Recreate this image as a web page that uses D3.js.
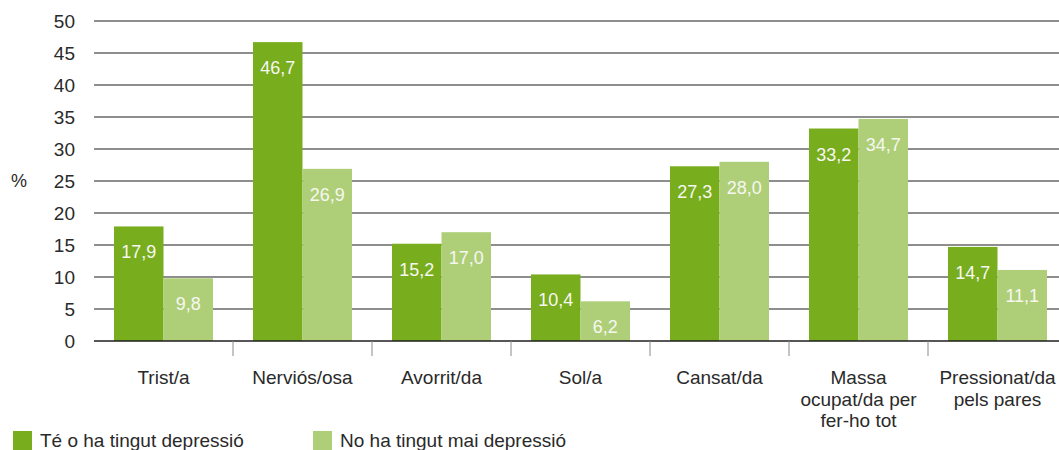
<!DOCTYPE html>
<html><head><meta charset="utf-8">
<script src="https://cdn.jsdelivr.net/npm/d3@7"></script>
<style>
html,body{margin:0;padding:0;background:#fff;}
svg text{font-family:"Liberation Sans",Arial,sans-serif;}
</style></head>
<body><svg id="c" width="1059" height="450"></svg>
<script>
const categories = [["Trist/a"],["Nerviós/osa"],["Avorrit/da"],["Sol/a"],["Cansat/da"],["Massa","ocupat/da per","fer-ho tot"],["Pressionat/da","pels pares"]];
const seriesNames = ["Té o ha tingut depressió","No ha tingut mai depressió"];
const depressed = [17.9, 46.7, 15.2, 10.4, 27.3, 33.2, 14.7];
const neverDepressed = [9.8, 26.9, 17.0, 6.2, 28.0, 34.7, 11.1];
const yTicks = [0,5,10,15,20,25,30,35,40,45,50];
const colors = ["#78ad1e","#aecf78"];

const svg = d3.select("#c");
const x0 = d3.scaleBand().domain(d3.range(categories.length)).range([94, 94+139*7]).paddingInner(0).paddingOuter(0);
const x1 = d3.scaleBand().domain([0,1]).range([0, 99]);
const y = d3.scaleLinear().domain([0,50]).range([341,21]);

// gridlines
svg.append("g").selectAll("line").data(yTicks.filter(d=>d>0)).join("line")
  .attr("x1",94).attr("x2",1059).attr("y1",d=>y(d)).attr("y2",d=>y(d))
  .attr("stroke","#1e1e1e").attr("stroke-width",1.2);
// y labels
svg.append("g").selectAll("text").data(yTicks).join("text")
  .attr("x",75).attr("y",d=>y(d)+6.5).attr("text-anchor","end")
  .attr("font-size",19).attr("fill","#2a2a2a").text(d=>d);
svg.append("text").attr("x",11).attr("y",187).attr("font-size",18).attr("fill","#2a2a2a").text("%");

// bars
const data = [depressed, neverDepressed];
const g = svg.append("g");
categories.forEach((c,i)=>{
  data.forEach((s,j)=>{
    const bx = x0(i)+20+x1(j);
    g.append("rect").attr("x",bx).attr("y",y(s[i])).attr("width",x1.bandwidth()).attr("height",y(0)-y(s[i])).attr("fill",colors[j]);
    g.append("text").attr("x",bx+x1.bandwidth()/2).attr("y",y(s[i])+32).attr("text-anchor","middle")
      .attr("font-size",18).attr("fill","#f7f7f2").text(s[i].toFixed(1).replace(".",","));
  });
});

// axis line
svg.append("line").attr("x1",94).attr("x2",1059).attr("y1",y(0)).attr("y2",y(0)).attr("stroke","#1e1e1e").attr("stroke-width",1.4);
// category ticks
svg.append("g").selectAll("line").data(d3.range(1,categories.length)).join("line")
  .attr("x1",d=>x0(d)).attr("x2",d=>x0(d)).attr("y1",y(0)).attr("y2",356)
  .attr("stroke","#8a8a8a").attr("stroke-width",1);
// category labels
categories.forEach((c,i)=>{
  const t = svg.append("text").attr("text-anchor","middle").attr("font-size",19).attr("fill","#2a2a2a");
  c.forEach((line,k)=>{
    t.append("tspan").attr("x",x0(i)+x0.bandwidth()/2).attr("y",384+k*21.5).text(line);
  });
});

// legend
const lx = [13, 313];
seriesNames.forEach((n,j)=>{
  svg.append("rect").attr("x",lx[j]).attr("y",431).attr("width",19).attr("height",19).attr("fill",colors[j]);
  svg.append("text").attr("x",lx[j]+27).attr("y",447).attr("font-size",19).attr("fill","#2a2a2a").text(n);
});
</script></body></html>
